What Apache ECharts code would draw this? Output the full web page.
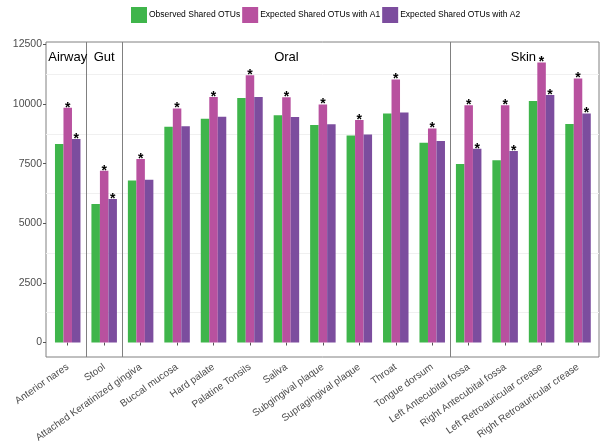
<!DOCTYPE html>
<html>
<head>
<meta charset="utf-8">
<script src="https://cdn.jsdelivr.net/npm/echarts@6/dist/echarts.min.js"></script>
<style>
  html, body { margin: 0; padding: 0; background: #fff; }
  #chart { width: 600px; height: 445px; }
</style>
</head>
<body>
<div id="chart"></div>
<script>
var categories = ['Anterior nares', 'Stool', 'Attached Keratinized gingiva', 'Buccal mucosa', 'Hard palate',
  'Palatine Tonsils', 'Saliva', 'Subgingival plaque', 'Supragingival plaque', 'Throat', 'Tongue dorsum',
  'Left Antecubital fossa', 'Right Antecubital fossa', 'Left Retroauricular crease', 'Right Retroauricular crease'];
var observed   = [8330, 5810, 6800, 9050, 9390, 10260, 9530, 9120, 8680, 9610, 8380, 7490, 7640, 10130, 9170];
var expectedA1 = [9850, 7200, 7700, 9820, 10300, 11210, 10290, 9980, 9330, 11030, 8980, 9950, 9950, 11740, 11070];
var expectedA2 = [8540, 6020, 6830, 9070, 9470, 10300, 9460, 9150, 8720, 9650, 8450, 8130, 8030, 10380, 9610];
var starA1 = [1, 1, 1, 1, 1, 1, 1, 1, 1, 1, 1, 1, 1, 1, 1];
var starA2 = [1, 1, 0, 0, 0, 0, 0, 0, 0, 0, 0, 1, 1, 1, 1];
var facetNames = ['Airway', 'Gut', 'Oral', 'Skin'];
var facetFirst = ['Anterior nares', 'Stool', 'Attached Keratinized gingiva', 'Left Antecubital fossa'];
var facetLast  = ['Anterior nares', 'Stool', 'Tongue dorsum', 'Right Retroauricular crease'];
var yTicks = [0, 2500, 5000, 7500, 10000, 12500];

var seriesNames = ['Observed Shared OTUs', 'Expected Shared OTUs with A1', 'Expected Shared OTUs with A2'];
var colors = ['#3fb54b', '#b8519f', '#7c4d9e'];

// panel range below 0 and above 12500, like ggplot's expansion
var yMin = -608, yMax = 12605;

var sepIdx = facetFirst.slice(1).map(function (c) { return categories.indexOf(c); });
// echarts adds one closing split line at the axis end; the frame already draws it
var sepColors = sepIdx.map(function () { return '#808080'; }).concat(['rgba(0,0,0,0)']);

function starLabel(flags) {
  return {
    show: true, position: 'top', distance: -7,
    fontSize: 14, fontWeight: 'bold', color: '#000',
    formatter: function (p) { return flags[p.dataIndex] ? '*' : ''; }
  };
}

var chart = echarts.init(document.getElementById('chart'));
var option = {
  color: colors,
  textStyle: { fontFamily: 'Liberation Sans, Arial, sans-serif' },
  legend: {
    top: 7, left: 131, padding: 0,
    itemWidth: 16, itemHeight: 16, itemGap: 2,
    icon: 'rect',
    data: seriesNames,
    textStyle: { fontSize: 8.5, color: '#000', padding: [0, 0, 0, -3] }
  },
  grid: [
    { left: 46, right: 1, top: 42, bottom: 88, show: true, borderColor: '#808080', borderWidth: 1,
      backgroundColor: 'transparent', outerBoundsMode: 'none' },
    { left: 46, right: 1, top: 44.5, bottom: 102.5, outerBoundsMode: 'none' },
    { left: 49.5, right: 3.75, top: 42, bottom: 88, outerBoundsMode: 'none' }
  ],
  xAxis: [
    { gridIndex: 0, type: 'value', show: false },
    { gridIndex: 1, type: 'value', show: false },
    {
      gridIndex: 2, type: 'category', data: categories,
      axisLine: { show: false },
      axisTick: { show: true, alignWithLabel: true, length: 3, lineStyle: { color: '#555' } },
      axisLabel: { rotate: 35, fontSize: 10, color: '#4d4d4d', margin: 9, interval: 0 },
      splitLine: {
        show: true,
        interval: function (i) { return sepIdx.indexOf(i) >= 0; },
        lineStyle: { color: sepColors, width: 1 }
      }
    }
  ],
  yAxis: [
    { gridIndex: 0, type: 'value', show: false },
    {
      gridIndex: 1, type: 'value', min: yTicks[0], max: yTicks[yTicks.length - 1], interval: 2500,
      name: 'Number of OTUs', nameLocation: 'middle', nameGap: 34,
      nameTextStyle: { fontSize: 13, color: '#000' },
      axisLine: { show: false },
      axisTick: { show: true, length: 3, lineStyle: { color: '#555' } },
      axisLabel: { fontSize: 10.5, color: '#4d4d4d', margin: 4, formatter: function (v) { return String(v); } },
      splitLine: { show: false },
      minorTick: { show: false, splitNumber: 2 },
      minorSplitLine: { show: true, lineStyle: { color: '#f0f0f0', width: 1 } }
    },
    { gridIndex: 2, type: 'value', min: yMin, max: yMax, show: false }
  ],
  series: [
    {
      name: seriesNames[0], type: 'bar', xAxisIndex: 2, yAxisIndex: 2,
      data: observed, barWidth: 8.5, barGap: '0%',
      markArea: {
        silent: true,
        itemStyle: { color: 'transparent' },
        label: { show: true, position: 'insideTop', distance: 9, fontSize: 13, color: '#000' },
        data: facetNames.map(function (n, i) {
          return [{ name: n, xAxis: facetFirst[i], yAxis: yMax }, { xAxis: facetLast[i], yAxis: yMin }];
        })
      }
    },
    {
      name: seriesNames[1], type: 'bar', xAxisIndex: 2, yAxisIndex: 2,
      data: expectedA1, barWidth: 8.5, barGap: '0%', label: starLabel(starA1)
    },
    {
      name: seriesNames[2], type: 'bar', xAxisIndex: 2, yAxisIndex: 2,
      data: expectedA2, barWidth: 8.5, barGap: '0%', label: starLabel(starA2)
    }
  ]
};
chart.setOption(option);
</script>
</body>
</html>
